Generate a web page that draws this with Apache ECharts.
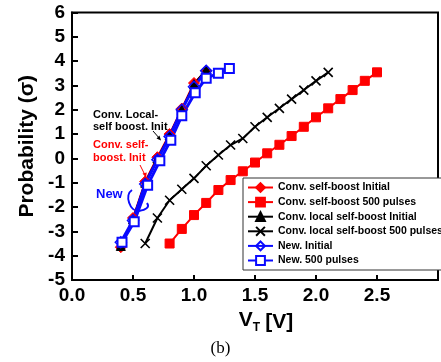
<!DOCTYPE html>
<html>
<head>
<meta charset="utf-8">
<script src="https://cdn.jsdelivr.net/npm/echarts@6/dist/echarts.min.js"></script>
<style>
  html, body { margin: 0; padding: 0; background: #fff; }
  #chart { width: 441px; height: 362px; }
</style>
</head>
<body>
<div id="chart"></div>
<script>
// Threshold-voltage distributions (V_T in volts, probability in sigma)
const vtInit = [0.4, 0.5, 0.6, 0.7, 0.8, 0.9, 1.0, 1.1];
const convSelfInit = [-3.65, -2.45, -0.95, 0.05, 1.0, 2.05, 3.1, 3.6];
const convLocalInit = [-3.6, -2.5, -1.0, 0.0, 0.95, 2.0, 3.05, 3.65];
const newInit = [-3.45, -2.55, -1.05, -0.05, 0.9, 2.0, 2.95, 3.6];

const vtConvSelf500 = [0.8, 0.9, 1.0, 1.1, 1.2, 1.3, 1.4, 1.5, 1.6, 1.7, 1.8, 1.9, 2.0, 2.1, 2.2, 2.3, 2.4, 2.5];
const convSelf500 = [-3.5, -2.9, -2.33, -1.83, -1.3, -0.89, -0.53, -0.17, 0.21, 0.56, 0.92, 1.3, 1.69, 2.06, 2.44, 2.81, 3.19, 3.54];

const vtConvLocal500 = [0.6, 0.7, 0.8, 0.9, 1.0, 1.1, 1.2, 1.3, 1.4, 1.5, 1.6, 1.7, 1.8, 1.9, 2.0, 2.1];
const convLocal500 = [-3.5, -2.45, -1.72, -1.27, -0.82, -0.3, 0.14, 0.55, 0.82, 1.3, 1.69, 2.06, 2.44, 2.81, 3.19, 3.54];

const vtNew500 = [0.41, 0.51, 0.62, 0.72, 0.81, 0.9, 1.01, 1.1, 1.2, 1.29];
const new500 = [-3.45, -2.6, -1.1, -0.1, 0.75, 1.75, 2.7, 3.3, 3.5, 3.7];

const seriesNames = [
  'Conv. self-boost Initial',
  'Conv. self-boost 500 pulses',
  'Conv. local self-boost Initial',
  'Conv. local self-boost 500 pulses',
  'New. Initial',
  'New. 500 pulses'
];

const pairs = (xs, ys) => xs.map((x, i) => [x, ys[i]]);
const RED = '#ff0000', BLACK = '#000000', BLUE = '#0a0aff';
const SANS = '"Liberation Sans", Arial, sans-serif';
const CROSS = 'path://M0,0L10,10M10,0L0,10';

const chart = echarts.init(document.getElementById('chart'), null, { renderer: 'canvas' });

function lineSeries(name, data, color, symbol, size, lw, extra) {
  return Object.assign({
    name: name,
    type: 'line',
    data: data,
    symbol: symbol,
    symbolSize: size,
    showAllSymbol: true,
    lineStyle: { color: color, width: lw },
    itemStyle: { color: color, borderColor: color, borderWidth: 1 },
    emphasis: { disabled: true },
    animation: false
  }, extra || {});
}

chart.setOption({
  animation: false,
  grid: {
    left: 72, top: 12.5, right: -2, bottom: 82,
    show: true, borderColor: '#000', borderWidth: 2, backgroundColor: 'transparent'
  },
  xAxis: {
    type: 'value', min: 0, max: 3, interval: 0.5,
    axisLine: { onZero: false, lineStyle: { color: '#000', width: 2 } },
    axisTick: { inside: true, length: 5, lineStyle: { color: '#000', width: 2 } },
    splitLine: { show: false },
    axisLabel: {
      color: '#000', fontFamily: SANS, fontWeight: 'bold', fontSize: 19, margin: 6,
      formatter: v => (v >= 3 ? '' : v.toFixed(1))
    },
    name: '{v|V}{t|T}{u|[V]}',
    nameLocation: 'middle',
    nameGap: 28,
    nameTextStyle: {
      padding: [0, 0, 0, 22],
      rich: {
        v: { fontFamily: SANS, fontWeight: 'bold', fontSize: 21, color: '#000', verticalAlign: 'top' },
        t: { fontFamily: SANS, fontWeight: 'bold', fontSize: 12, color: '#000', padding: [12, 5, 0, 0] },
        u: { fontFamily: SANS, fontWeight: 'bold', fontSize: 21, color: '#000' }
      }
    }
  },
  yAxis: {
    type: 'value', min: -5, max: 6, interval: 1,
    axisLine: { onZero: false, lineStyle: { color: '#000', width: 2 } },
    axisTick: { inside: true, length: 6, lineStyle: { color: '#000', width: 2 } },
    splitLine: { show: false },
    axisLabel: { color: '#000', fontFamily: SANS, fontWeight: 'bold', fontSize: 19, margin: 7 },
    name: 'Probability (σ)',
    nameLocation: 'middle',
    nameGap: 30,
    nameTextStyle: { color: '#000', fontFamily: SANS, fontWeight: 'bold', fontSize: 21 }
  },
  legend: {
    orient: 'vertical',
    left: 243, top: 178,
    padding: [4, 4, 4, 4],
    itemWidth: 25, itemHeight: 11, itemGap: 3.6,
    borderColor: '#333', borderWidth: 1, backgroundColor: '#fff',
    selectedMode: false,
    textStyle: { color: '#000', fontFamily: SANS, fontWeight: 'bold', fontSize: 10.5 },
    data: seriesNames
  },
  series: [
    lineSeries(seriesNames[0], pairs(vtInit, convSelfInit), RED, 'diamond', 11, 2),
    lineSeries(seriesNames[1], pairs(vtConvSelf500, convSelf500), RED, 'rect', 9, 2),
    lineSeries(seriesNames[2], pairs(vtInit, convLocalInit), BLACK, 'triangle', 9, 2),
    lineSeries(seriesNames[3], pairs(vtConvLocal500, convLocal500), BLACK, CROSS, 9, 2,
      { itemStyle: { color: 'rgba(0,0,0,0)', borderColor: BLACK, borderWidth: 1.6 } }),
    lineSeries(seriesNames[4], pairs(vtInit, newInit), BLUE, 'diamond', 11, 3,
      { itemStyle: { color: 'rgba(255,255,255,0)', borderColor: BLUE, borderWidth: 1.5 } }),
    lineSeries(seriesNames[5], pairs(vtNew500, new500), BLUE, 'emptyRect', 9, 3,
      { itemStyle: { color: BLUE, borderColor: BLUE, borderWidth: 1.5 } })
  ],
  graphic: [
    // curve labels with pointer arrows
    { type: 'text', left: 93, top: 109, style: { text: 'Conv. Local-\nself boost. Init', fill: '#000', font: 'bold 11px ' + SANS, lineHeight: 12 } },
    { type: 'line', shape: { x1: 153, y1: 131, x2: 160, y2: 139 }, style: { stroke: '#000', lineWidth: 1 } },
    { type: 'polygon', shape: { points: [[161, 140.5], [156.5, 138.5], [159.5, 135.5]] }, style: { fill: '#000' } },
    { type: 'text', left: 93, top: 138, style: { text: 'Conv. self-\nboost. Init', fill: RED, font: 'bold 11px ' + SANS, lineHeight: 13 } },
    { type: 'line', shape: { x1: 140, y1: 165, x2: 145, y2: 175 }, style: { stroke: RED, lineWidth: 1 } },
    { type: 'polygon', shape: { points: [[146, 177.5], [142.5, 173.5], [146.8, 172.5]] }, style: { fill: RED } },
    { type: 'text', left: 96, top: 188, style: { text: 'New', fill: BLUE, font: 'bold 13px ' + SANS } },
    { type: 'bezierCurve', shape: { x1: 132, y1: 190, cpx1: 124, cpy1: 195, cpx2: 130, cpy2: 212, x2: 139, y2: 211 },
      style: { stroke: BLUE, lineWidth: 2, fill: null } },
    { type: 'bezierCurve', shape: { x1: 139, y1: 211, cpx1: 146, cpy1: 210, cpx2: 150, cpy2: 207, x2: 147, y2: 203 },
      style: { stroke: BLUE, lineWidth: 2, fill: null } },
    // panel caption
    { type: 'text', left: 'center', top: 340, style: { text: '(b)', fill: '#000', font: '17px "Liberation Serif", "Times New Roman", serif' } }
  ]
});
</script>
</body>
</html>
